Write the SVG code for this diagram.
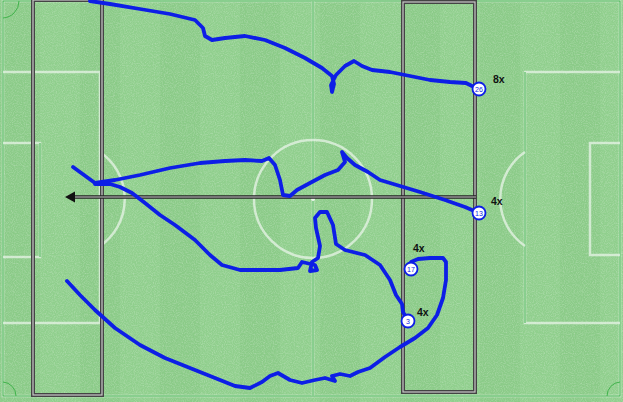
<svg xmlns="http://www.w3.org/2000/svg" width="623" height="402" viewBox="0 0 623 402">
<style>
.line{fill:none;stroke:#eef7ee;stroke-width:2.5;opacity:.7}
.gline{fill:none;stroke:#3fb24a;stroke-width:1}
.zoneo{fill:none;stroke:#444;stroke-width:4}
.zonei{fill:none;stroke:#c8c8c8;stroke-width:1.2}
.run{fill:none;stroke:#0d1ee6;stroke-width:3.8;stroke-linejoin:round;stroke-linecap:round}
.nc{fill:#fff;stroke:#0d1ee6;stroke-width:1.8}
.nt{font-family:"Liberation Sans",Arial,sans-serif;font-size:7px;fill:#0d1ee6;text-anchor:middle}
.lbl{font-family:"Liberation Sans",Arial,sans-serif;font-size:10.5px;font-weight:bold;fill:#111}
</style>
<defs>
<filter id="grain" x="0" y="0" width="100%" height="100%">
<feTurbulence type="fractalNoise" baseFrequency="0.9" numOctaves="2" seed="3" result="n"/>
<feColorMatrix in="n" type="matrix" values="0 0 0 0 1  0 0 0 0 1  0 0 0 0 1  0 0 0 1.4 -0.55"/>
</filter>
</defs>
<g id="pitch">
<rect x="0" y="0" width="623" height="402" fill="#8bcb88"/>
<rect x="40" y="0" width="40" height="402" fill="#90cf8d"/>
<rect x="120" y="0" width="40" height="402" fill="#90cf8d"/>
<rect x="200" y="0" width="40" height="402" fill="#90cf8d"/>
<rect x="280" y="0" width="40" height="402" fill="#90cf8d"/>
<rect x="360" y="0" width="40" height="402" fill="#90cf8d"/>
<rect x="440" y="0" width="40" height="402" fill="#90cf8d"/>
<rect x="520" y="0" width="40" height="402" fill="#90cf8d"/>
<rect x="600" y="0" width="23" height="402" fill="#90cf8d"/>
<rect x="0" y="0" width="623" height="402" filter="url(#grain)" opacity="0.35"/>
<rect x="3" y="1" width="617" height="395" class="line"/>
<rect x="3" y="1" width="617" height="395" class="gline"/>
<line x1="313" y1="1" x2="313" y2="396" class="line"/>
<line x1="313" y1="1" x2="313" y2="396" class="gline"/>
<circle cx="313" cy="199" r="59" class="line"/>
<circle cx="313" cy="199" r="2" fill="#eef7ee"/>
<path d="M3,72 H100 V323 H3" class="line"/>
<path d="M3,143 H40 V257 H3" class="line"/>
<path d="M40,143 V257" class="gline"/>
<path d="M100,152 A57,57 0 0 1 100,246" class="line"/>
<path d="M620,72 H525 V323 H620" class="line"/>
<path d="M525,72 V323" class="gline"/>
<path d="M620,143 H590 V255 H620" class="line"/>
<path d="M525,152 A57,57 0 0 0 525,246" class="line"/>
<path d="M3,18 A17,17 0 0 0 19,1" stroke="#3fb24a" fill="none" stroke-width="1"/>
<path d="M3,382 A14,14 0 0 1 16,396" stroke="#3fb24a" fill="none" stroke-width="1"/>
<path d="M620,382 A14,14 0 0 0 607,396" stroke="#3fb24a" fill="none" stroke-width="1"/>
</g>
<g id="zones">
<rect x="33" y="0" width="69" height="395" class="zoneo"/>
<rect x="33" y="0" width="69" height="395" class="zonei"/>
<rect x="403" y="2" width="72" height="390" class="zoneo"/>
<rect x="403" y="2" width="72" height="390" class="zonei"/>
</g>
<g id="connectors">
<line x1="476" y1="197" x2="73" y2="197" stroke="#222" stroke-width="3.5"/>
<line x1="476" y1="197" x2="73" y2="197" stroke="#ccc" stroke-width="1"/>
<polygon points="65,197 75,191.5 75,202.5" fill="#111"/>
<polyline class="run" points="90,1 110,4 140,9 170,14 195,20 203,28 205,36 212,40 225,38 245,36 265,40 285,48 305,58 322,68 332,76 334,84 332,92 331,85 336,75 345,66 354,61 362,66 372,70 390,72 410,76 430,80 450,82 466,83 472,86 479,89"/>
<polyline class="run" points="479,213 465,207 445,200 420,192 400,186 380,180 368,172 355,165 347,158 342,152 345,162 338,170 325,175 310,183 297,190 290,196 283,195 280,180 275,165 269,158 262,161 245,160 225,161 200,163 170,168 140,175 115,180 95,183 73,167"/>
<polyline class="run" points="95,184 110,184 120,187 132,193 145,203 160,215 175,225 195,240 210,255 222,265 240,270 260,270 280,270 298,268 302,262 315,265 317,270 310,271 312,262 318,258 320,246 316,228 315,218 320,212 327,212 333,225 336,244 345,250 365,255 380,265 390,280 396,295 402,304 403,312 408,321"/>
<polyline class="run" points="67,281 80,295 95,310 115,328 140,345 165,358 190,368 215,378 235,386 250,388 262,382 270,376 278,373 290,380 302,383 315,380 325,378 335,381 332,376 340,374 350,376 358,372 370,368 385,357 400,347 415,338 428,328 437,315 443,298 446,280 446,262 443,258 430,258 418,259 411,262 411,269"/>
</g>
<g id="n26"><circle cx="479" cy="89" r="6.5" class="nc"/><text x="479" y="91.5" class="nt">26</text><text x="493" y="83" class="lbl">8x</text></g>
<g id="n13"><circle cx="479" cy="213" r="6.5" class="nc"/><text x="479" y="215.5" class="nt">13</text><text x="491" y="205" class="lbl">4x</text></g>
<g id="n17"><circle cx="411" cy="269" r="6.5" class="nc"/><text x="411" y="271.5" class="nt">17</text><text x="413" y="252" class="lbl">4x</text></g>
<g id="n3"><circle cx="408" cy="321" r="6.5" class="nc"/><text x="408" y="323.5" class="nt">3</text><text x="417" y="316" class="lbl">4x</text></g>
</svg>
